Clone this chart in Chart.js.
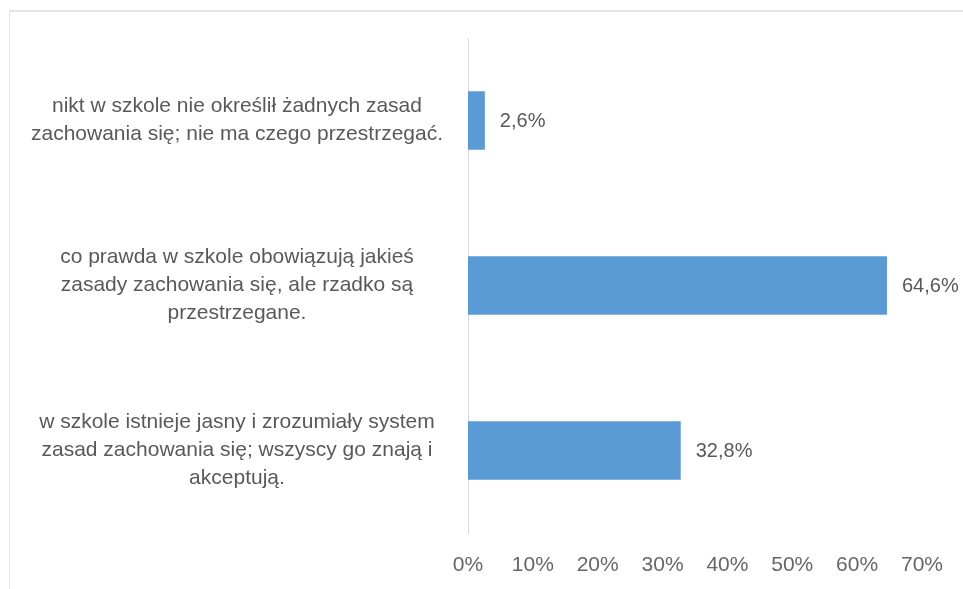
<!DOCTYPE html>
<html>
<head>
<meta charset="utf-8">
<script src="https://cdn.jsdelivr.net/npm/chart.js@4/dist/chart.umd.min.js"></script>
<style>
  html, body { margin: 0; padding: 0; background: #fff; overflow: hidden; }
  #frame { position: absolute; left: 9px; top: 10px; width: 1000px; height: 700px;
           border-top: 2px solid #e6e6e6; border-left: 1px solid #e6e6e6; }
  #wrap { position: absolute; left: 0; top: 0; width: 963px; height: 589px; }
</style>
</head>
<body>
<div id="frame"></div>
<div id="wrap"><canvas id="myChart" width="963" height="589"></canvas></div>
<script>
// data
var categories = [
    ["nikt w szkole nie określił żadnych zasad", "zachowania się; nie ma czego przestrzegać."],
    ["co prawda w szkole obowiązują jakieś", "zasady zachowania się, ale rzadko są", "przestrzegane."],
    ["w szkole istnieje jasny i zrozumiały system", "zasad zachowania się; wszyscy go znają i", "akceptują."]
];
var values = [2.6, 64.6, 32.8];
var tickMax = 70;
var tickStep = 10;

var fontFamily = '"Liberation Sans", Arial, sans-serif';

function pct(v) {
    return v.toFixed(1).replace('.', ',') + '%';
}

// value labels next to bars
var barLabels = {
    id: 'barLabels',
    afterDatasetsDraw: function(chart) {
        var ctx = chart.ctx;
        var meta = chart.getDatasetMeta(0);
        ctx.save();
        ctx.font = '20px ' + fontFamily;
        ctx.fillStyle = '#595959';
        ctx.textAlign = 'left';
        ctx.textBaseline = 'middle';
        meta.data.forEach(function(bar, i) {
            ctx.fillText(pct(values[i]), bar.x + 15, bar.y + 1);
        });
        ctx.restore();
    }
};

var ctx = document.getElementById('myChart').getContext('2d');

var chart = new Chart(ctx, {
    type: 'bar',
    data: {
        labels: categories,
        datasets: [{
            data: values,
            backgroundColor: '#5B9BD5',
            borderWidth: 0,
            categoryPercentage: 1,
            barPercentage: 0.355
        }]
    },
    options: {
        indexAxis: 'y',
        responsive: false,
        animation: false,
        layout: { padding: { top: 38, right: 40, bottom: 11, left: 13 } },
        plugins: {
            legend: { display: false },
            tooltip: { enabled: false }
        },
        scales: {
            x: {
                min: 0,
                max: tickMax,
                grid: { display: false, drawTicks: false },
                border: { display: false },
                afterFit: function(scale) {
                    scale.height = 45;
                },
                ticks: {
                    stepSize: tickStep,
                    padding: 20,
                    color: '#666666',
                    font: { family: fontFamily, size: 21 },
                    callback: function(v) { return v + '%'; }
                }
            },
            y: {
                grid: { display: false, drawTicks: false },
                border: { display: true, color: '#d9d9d9', width: 1 },
                afterFit: function(scale) {
                    // multi-line labels should not push the plot down
                    scale.paddingTop = 0;
                    scale.paddingBottom = 0;
                },
                ticks: {
                    crossAlign: 'center',
                    padding: 25,
                    color: '#595959',
                    font: { family: fontFamily, size: 21, lineHeight: 1.33 }
                }
            }
        }
    },
    plugins: [barLabels]
});
</script>
</body>
</html>
